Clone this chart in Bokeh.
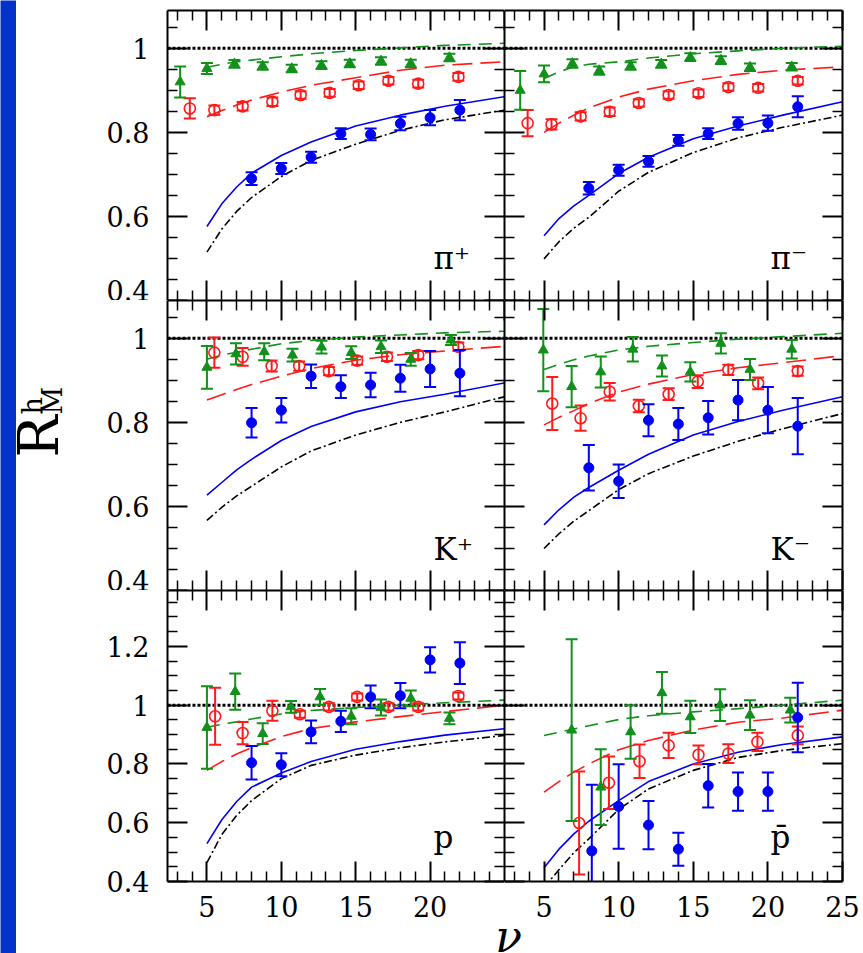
import math
from bokeh.plotting import figure
from bokeh.layouts import row, column
from bokeh.models import (Range1d, LinearAxis, FixedTicker, PrintfTickFormatter,
                          Span, Label, ColumnDataSource, CustomLabelingPolicy)
from bokeh.embed import file_html
from bokeh.resources import INLINE

# ------------------------------------------------------------------ data
curve_x = [5, 6, 7, 8, 10, 12, 15, 18, 21, 25]
blue_x = [8, 10, 12, 14, 16, 18, 20, 22]

# pi+
pip_blue_y = [0.690, 0.714, 0.741, 0.797, 0.795, 0.821, 0.835, 0.853]
pip_blue_err = [0.015, 0.013, 0.013, 0.013, 0.014, 0.016, 0.018, 0.024]
pip_red_x = [3.85, 5.5, 7.4, 9.4, 11.3, 13.25, 15.2, 17.2, 19.2, 21.9]
pip_red_y = [0.857, 0.853, 0.862, 0.873, 0.889, 0.894, 0.912, 0.923, 0.916, 0.932]
pip_red_err = [0.024, 0.011, 0.010, 0.010, 0.009, 0.009, 0.009, 0.009, 0.009, 0.009]
pip_green_x = [3.2, 5.0, 6.85, 8.75, 10.7, 12.7, 14.6, 16.7, 18.7, 21.3]
pip_green_y = [0.920, 0.952, 0.963, 0.958, 0.952, 0.960, 0.964, 0.970, 0.964, 0.978]
pip_green_err = [0.037, 0.013, 0.009, 0.009, 0.009, 0.009, 0.009, 0.009, 0.009, 0.009]
pip_blue_c = [0.576, 0.630, 0.670, 0.703, 0.745, 0.777, 0.815, 0.841, 0.862, 0.885]
pip_dd_c = [0.515, 0.570, 0.612, 0.645, 0.695, 0.733, 0.772, 0.805, 0.830, 0.853]
pip_red_c = [0.837, 0.852, 0.865, 0.877, 0.896, 0.912, 0.930, 0.948, 0.960, 0.968]
pip_green_c = [0.955, 0.962, 0.968, 0.972, 0.980, 0.987, 0.995, 1.001, 1.007, 1.012]

# pi-
pim_blue_y = [0.667, 0.710, 0.731, 0.781, 0.797, 0.821, 0.822, 0.861]
pim_blue_err = [0.015, 0.013, 0.013, 0.013, 0.013, 0.015, 0.018, 0.025]
pim_red_x = [3.9, 5.5, 7.45, 9.4, 11.35, 13.35, 15.35, 17.35, 19.35, 22.0]
pim_red_y = [0.822, 0.819, 0.838, 0.849, 0.870, 0.889, 0.893, 0.908, 0.906, 0.923]
pim_red_err = [0.031, 0.012, 0.010, 0.010, 0.009, 0.009, 0.009, 0.009, 0.009, 0.009]
pim_green_x = [3.4, 5.0, 6.9, 8.7, 10.8, 12.85, 14.8, 16.85, 18.8, 21.6]
pim_green_y = [0.900, 0.939, 0.964, 0.947, 0.958, 0.963, 0.979, 0.972, 0.955, 0.956]
pim_green_err = [0.046, 0.020, 0.010, 0.010, 0.009, 0.009, 0.009, 0.009, 0.009, 0.009]
pim_blue_c = [0.554, 0.595, 0.625, 0.650, 0.702, 0.741, 0.785, 0.815, 0.841, 0.873]
pim_dd_c = [0.499, 0.540, 0.572, 0.598, 0.660, 0.705, 0.752, 0.787, 0.812, 0.841]
pim_red_c = [0.800, 0.822, 0.841, 0.858, 0.884, 0.903, 0.923, 0.938, 0.948, 0.956]
pim_green_c = [0.928, 0.944, 0.956, 0.962, 0.968, 0.977, 0.987, 0.994, 1.000, 1.005]

# K+
kp_blue_y = [0.799, 0.829, 0.910, 0.885, 0.889, 0.905, 0.927, 0.917]
kp_blue_err = [0.035, 0.029, 0.028, 0.027, 0.029, 0.032, 0.043, 0.055]
kp_red_x = [5.5, 7.4, 9.35, 11.2, 13.2, 15.1, 17.1, 19.2, 21.9]
kp_red_y = [0.966, 0.956, 0.934, 0.934, 0.922, 0.947, 0.956, 0.960, 0.980]
kp_red_err = [0.036, 0.021, 0.013, 0.011, 0.010, 0.010, 0.010, 0.010, 0.010]
kp_green_x = [5.0, 6.95, 8.85, 10.75, 12.7, 14.7, 16.7, 18.7, 21.4]
kp_green_y = [0.931, 0.963, 0.968, 0.960, 0.979, 0.966, 0.980, 0.950, 0.996]
kp_green_err = [0.051, 0.025, 0.020, 0.015, 0.015, 0.015, 0.015, 0.015, 0.012]
kp_blue_c = [0.627, 0.657, 0.687, 0.712, 0.757, 0.790, 0.825, 0.849, 0.867, 0.894]
kp_dd_c = [0.567, 0.598, 0.625, 0.648, 0.694, 0.732, 0.770, 0.800, 0.825, 0.861]
kp_red_c = [0.853, 0.866, 0.878, 0.890, 0.910, 0.928, 0.948, 0.961, 0.970, 0.981]
kp_green_c = [0.950, 0.960, 0.967, 0.974, 0.987, 0.995, 1.003, 1.008, 1.013, 1.017]

# K-
km_blue_y = [0.692, 0.660, 0.805, 0.796, 0.811, 0.853, 0.829, 0.791]
km_blue_err = [0.054, 0.040, 0.038, 0.038, 0.040, 0.048, 0.055, 0.067]
km_red_x = [5.55, 7.45, 9.4, 11.35, 13.35, 15.3, 17.35, 19.35, 22.0]
km_red_y = [0.845, 0.810, 0.873, 0.839, 0.867, 0.897, 0.925, 0.893, 0.922]
km_red_err = [0.063, 0.030, 0.021, 0.015, 0.014, 0.015, 0.012, 0.014, 0.011]
km_green_x = [4.95, 6.85, 8.8, 10.95, 12.9, 14.8, 16.85, 18.8, 21.6]
km_green_y = [0.972, 0.885, 0.920, 0.974, 0.934, 0.920, 0.988, 0.926, 0.974]
km_green_err = [0.098, 0.049, 0.037, 0.029, 0.025, 0.023, 0.024, 0.025, 0.022]
km_blue_c = [0.556, 0.592, 0.622, 0.645, 0.686, 0.724, 0.770, 0.802, 0.829, 0.861]
km_dd_c = [0.500, 0.535, 0.565, 0.590, 0.640, 0.678, 0.720, 0.755, 0.785, 0.821]
km_red_c = [0.794, 0.812, 0.828, 0.845, 0.872, 0.891, 0.914, 0.930, 0.942, 0.959]
km_green_c = [0.926, 0.938, 0.949, 0.958, 0.972, 0.981, 0.990, 0.998, 1.004, 1.012]

# p
pr_blue_y = [0.804, 0.797, 0.909, 0.945, 1.028, 1.032, 1.154, 1.143]
pr_blue_err = [0.057, 0.039, 0.039, 0.036, 0.039, 0.043, 0.043, 0.071]
pr_red_x = [5.55, 7.4, 9.4, 11.25, 13.2, 15.1, 17.2, 19.2, 21.9]
pr_red_y = [0.962, 0.905, 0.981, 0.969, 0.994, 1.028, 0.994, 0.994, 1.031]
pr_red_err = [0.097, 0.038, 0.034, 0.012, 0.012, 0.012, 0.012, 0.012, 0.012]
pr_green_x = [5.0, 6.9, 8.75, 10.65, 12.6, 14.7, 16.7, 18.7, 21.3]
pr_green_y = [0.924, 1.046, 0.903, 0.994, 1.028, 0.962, 0.992, 1.023, 0.955]
pr_green_err = [0.140, 0.062, 0.035, 0.020, 0.027, 0.027, 0.027, 0.027, 0.020]
pr_blue_c = [0.529, 0.610, 0.672, 0.721, 0.769, 0.808, 0.850, 0.876, 0.898, 0.920]
pr_dd_c = [0.464, 0.560, 0.625, 0.675, 0.750, 0.795, 0.830, 0.855, 0.875, 0.897]
pr_red_c = [0.778, 0.808, 0.834, 0.855, 0.893, 0.920, 0.943, 0.961, 0.978, 1.000]
pr_green_c = [0.925, 0.935, 0.943, 0.953, 0.970, 0.982, 0.992, 1.000, 1.008, 1.017]

# p-bar
pb_blue_x = [8.2, 10, 12, 14, 16, 18, 20, 22]
pb_blue_y = [0.504, 0.655, 0.592, 0.510, 0.726, 0.706, 0.706, 0.958]
pb_blue_err = [0.225, 0.144, 0.082, 0.056, 0.074, 0.065, 0.065, 0.118]
pb_red_x = [7.35, 9.35, 11.4, 13.35, 15.35, 17.35, 19.3, 22.0]
pb_red_y = [0.599, 0.736, 0.809, 0.863, 0.831, 0.835, 0.875, 0.897]
pb_red_err = [0.175, 0.089, 0.057, 0.043, 0.032, 0.032, 0.031, 0.030]
pb_green_x = [6.85, 8.8, 10.8, 12.9, 14.8, 16.8, 18.8, 21.5]
pb_green_y = [0.915, 0.721, 0.909, 1.042, 0.960, 1.000, 0.966, 0.983]
pb_green_err = [0.309, 0.129, 0.091, 0.071, 0.055, 0.054, 0.051, 0.042]
pb_blue_c = [0.447, 0.510, 0.562, 0.605, 0.675, 0.740, 0.800, 0.840, 0.866, 0.892]
pb_dd_c = [0.380, 0.440, 0.498, 0.545, 0.645, 0.715, 0.778, 0.822, 0.846, 0.869]
pb_red_c = [0.704, 0.740, 0.772, 0.800, 0.848, 0.880, 0.915, 0.942, 0.956, 0.983]
pb_green_c = [0.897, 0.908, 0.919, 0.930, 0.951, 0.964, 0.977, 0.988, 1.000, 1.017]

panel_names = ["\u03c0\u207a", "\u03c0\u207b", "K\u207a", "K\u207b", "p", "p\u0304"]

x_major = [5, 10, 15, 20, 25]
x_minor = [3, 4, 6, 7, 8, 9, 11, 12, 13, 14, 16, 17, 18, 19, 21, 22, 23, 24]
y_major_a = [0.4, 0.6, 0.8, 1.0]
y_minor_a = [0.45, 0.5, 0.55, 0.65, 0.7, 0.75, 0.85, 0.9, 0.95, 1.05]
y_major_b = [0.4, 0.6, 0.8, 1.0, 1.2]
y_minor_b = [0.45, 0.5, 0.55, 0.65, 0.7, 0.75, 0.85, 0.9, 0.95, 1.05, 1.1, 1.15, 1.25, 1.3, 1.35]

# ------------------------------------------------------------------ style
BG = "#0433cc"
C_BLUE = "#0000f5"
C_RED = "#ff1a1a"
C_GREEN = "#11901a"
FONT = "DejaVu Serif"
X0, X1 = 2.35, 25.0
Y0 = 0.4
YT_A = 1.09
YT_B = 1.39

NO_LABELS = CustomLabelingPolicy(code="""
try { for (const i of Array.from(indices.ones())) indices.unset(i) } catch (e) {}
return indices
""")

panels = [
    dict(name=panel_names[0], bx=blue_x, by=pip_blue_y, be=pip_blue_err,
         rx=pip_red_x, ry=pip_red_y, re=pip_red_err,
         gx=pip_green_x, gy=pip_green_y, ge=pip_green_err,
         cb=pip_blue_c, cd=pip_dd_c, cr=pip_red_c, cg=pip_green_c),
    dict(name=panel_names[1], bx=blue_x, by=pim_blue_y, be=pim_blue_err,
         rx=pim_red_x, ry=pim_red_y, re=pim_red_err,
         gx=pim_green_x, gy=pim_green_y, ge=pim_green_err,
         cb=pim_blue_c, cd=pim_dd_c, cr=pim_red_c, cg=pim_green_c),
    dict(name=panel_names[2], bx=blue_x, by=kp_blue_y, be=kp_blue_err,
         rx=kp_red_x, ry=kp_red_y, re=kp_red_err,
         gx=kp_green_x, gy=kp_green_y, ge=kp_green_err,
         cb=kp_blue_c, cd=kp_dd_c, cr=kp_red_c, cg=kp_green_c),
    dict(name=panel_names[3], bx=blue_x, by=km_blue_y, be=km_blue_err,
         rx=km_red_x, ry=km_red_y, re=km_red_err,
         gx=km_green_x, gy=km_green_y, ge=km_green_err,
         cb=km_blue_c, cd=km_dd_c, cr=km_red_c, cg=km_green_c),
    dict(name=panel_names[4], bx=blue_x, by=pr_blue_y, be=pr_blue_err,
         rx=pr_red_x, ry=pr_red_y, re=pr_red_err,
         gx=pr_green_x, gy=pr_green_y, ge=pr_green_err,
         cb=pr_blue_c, cd=pr_dd_c, cr=pr_red_c, cg=pr_green_c),
    dict(name=panel_names[5], bx=pb_blue_x, by=pb_blue_y, be=pb_blue_err,
         rx=pb_red_x, ry=pb_red_y, re=pb_red_err,
         gx=pb_green_x, gy=pb_green_y, ge=pb_green_err,
         cb=pb_blue_c, cd=pb_dd_c, cr=pb_red_c, cg=pb_green_c),
]


def add_axis(p, side, ticks, minor, labels, standoff=17):
    ax = LinearAxis(ticker=FixedTicker(ticks=ticks, minor_ticks=minor),
                    formatter=PrintfTickFormatter(format="%.3g"))
    ax.axis_line_color = "black"
    ax.axis_line_width = 2
    ax.major_tick_in = 20
    ax.major_tick_out = 0
    ax.minor_tick_in = 10
    ax.minor_tick_out = 0
    ax.major_tick_line_color = "black"
    ax.minor_tick_line_color = "black"
    ax.major_tick_line_width = 2
    ax.minor_tick_line_width = 1.5
    if labels:
        ax.major_label_text_font = FONT
        ax.major_label_text_font_size = "27px"
        ax.major_label_text_color = "black"
        ax.major_label_standoff = standoff
    else:
        ax.major_label_text_font_size = "0px"
        ax.major_label_standoff = 0
        ax.major_label_policy = NO_LABELS
    p.add_layout(ax, side)


def series(p, xs, ys, es, color, kind):
    src = ColumnDataSource(dict(x=xs, y=ys,
                                lo=[y - e for y, e in zip(ys, es)],
                                hi=[y + e for y, e in zip(ys, es)]))
    p.segment(x0="x", y0="lo", x1="x", y1="hi", source=src,
              line_color=color, line_width=2)
    p.scatter(x="x", y="lo", source=src, marker="dash", size=12,
              line_color=color, line_width=2)
    p.scatter(x="x", y="hi", source=src, marker="dash", size=12,
              line_color=color, line_width=2)
    if kind == "circle":
        p.scatter(x="x", y="y", source=src, marker="circle", size=10,
                  fill_color=color, line_color=color)
    elif kind == "open":
        p.scatter(x="x", y="y", source=src, marker="circle", size=11,
                  fill_color=None, line_color=color, line_width=1.6)
    else:
        p.scatter(x="x", y="y", source=src, marker="triangle", size=10,
                  fill_color=color, line_color=color)


LEFT_W = 432     # left-column figure width (frame 337 + 95 for tick labels)
RIGHT_W = 359    # right-column figure width (frame 338 + 21)
NAME_FS = 31
NAME_OFFSETS = {0: 43, 1: 42, 2: 45}


def make_panel(d, col, r):
    left = col == 0
    top = r == 0
    bottom = r == 2
    y_end = YT_B if bottom else YT_A
    width = LEFT_W if left else RIGHT_W
    height = {0: 295, 1: 290, 2: 337}[r]
    p = figure(width=width, height=height,
               x_range=Range1d(X0, X1), y_range=Range1d(Y0, y_end),
               output_backend="svg", toolbar_location=None,
               x_axis_location=None, y_axis_location=None,
               min_border_left=95 if left else 0,
               min_border_right=0 if left else 21,
               min_border_top=5 if top else 0,
               min_border_bottom=46 if bottom else 0,
               background_fill_color="white", border_fill_color="white",
               outline_line_color=None)
    p.xgrid.visible = False
    p.ygrid.visible = False

    ymaj = y_major_b if bottom else y_major_a
    ymin = y_minor_b if bottom else y_minor_a

    add_axis(p, "below", x_major if not left else x_major[:-1], x_minor,
             labels=bottom, standoff=14)
    add_axis(p, "above", x_major, x_minor, labels=False)
    add_axis(p, "left", ymaj, ymin, labels=left, standoff=18)
    add_axis(p, "right", ymaj, ymin, labels=False)

    ref = Span(location=1.0, dimension="width", line_color="black",
               line_width=3, line_dash="3 2", level="underlay")
    p.add_layout(ref)

    p.line(curve_x, d["cb"], line_color=C_BLUE, line_width=1.6)
    p.line(curve_x, d["cd"], line_color="black", line_width=1.6, line_dash="8 3 2 3")
    p.line(curve_x, d["cr"], line_color=C_RED, line_width=1.6, line_dash="20 8")
    p.line(curve_x, d["cg"], line_color=C_GREEN, line_width=1.6, line_dash="13 8")

    series(p, d["rx"], d["ry"], d["re"], C_RED, "open")
    series(p, d["gx"], d["gy"], d["ge"], C_GREEN, "tri")
    series(p, d["bx"], d["by"], d["be"], C_BLUE, "circle")

    p.add_layout(Label(x=X0, y=Y0, x_offset=266, y_offset=NAME_OFFSETS[r],
                       text=d["name"], text_font=FONT,
                       text_font_size="%dpx" % NAME_FS,
                       text_color="black", text_align="left",
                       text_baseline="middle"))
    return p


def plain_fig(w, h, color):
    f = figure(width=w, height=h, output_backend="svg", toolbar_location=None,
               x_axis_location=None, y_axis_location=None,
               x_range=Range1d(0, w), y_range=Range1d(0, h),
               min_border_left=0, min_border_right=0, min_border_top=0,
               min_border_bottom=0, background_fill_color=color,
               border_fill_color=color, outline_line_color=None)
    f.xgrid.visible = False
    f.ygrid.visible = False
    return f


figs = [make_panel(panels[i], i % 2, i // 2) for i in range(6)]

# y-axis title  R^h_M  (rotated, reading upwards)
ylab = plain_fig(56, 948, "white")
ylab.add_layout(Label(x=22, y=496, angle=math.pi / 2, text="R", text_font=FONT,
                      text_font_size="56px", text_color="black",
                      text_align="left", text_baseline="middle"))
ylab.add_layout(Label(x=16, y=539, angle=math.pi / 2, text="h", text_font=FONT,
                      text_font_size="27px", text_color="black",
                      text_align="left", text_baseline="middle"))
ylab.add_layout(Label(x=36, y=539, angle=math.pi / 2, text="M", text_font=FONT,
                      text_font_size="27px", text_color="black",
                      text_align="left", text_baseline="middle"))

# x-axis title  nu
xlab = plain_fig(LEFT_W + RIGHT_W, 26, "white")
xlab.add_layout(Label(x=436, y=17, text="\u03bd", text_font=FONT,
                      text_font_style="italic", text_font_size="44px",
                      text_color="black", text_align="center",
                      text_baseline="middle"))

layout = row(
    plain_fig(16, 953, BG),
    column(plain_fig(847, 5, BG),
           row(ylab,
               column(row(figs[0], figs[1]),
                      row(figs[2], figs[3]),
                      row(figs[4], figs[5]),
                      xlab))),
)

open("out.html", "w").write(file_html(layout, INLINE))
